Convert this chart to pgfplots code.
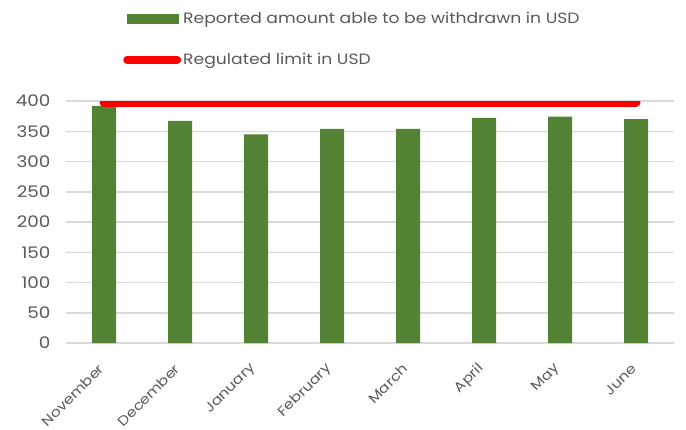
\documentclass[border=0pt]{standalone}
\usepackage{fontspec}
\setmainfont[FakeStretch=1.15]{Poppins}
\usepackage{pgfplots}
\pgfplotsset{compat=1.18}
\definecolor{bargreen}{HTML}{548235}
\definecolor{txtgray}{HTML}{595959}
\definecolor{gridgray}{HTML}{D9D9D9}
\definecolor{limred}{HTML}{FF0000}
\begin{document}
\begin{tikzpicture}[x=1bp,y=1bp]
\useasboundingbox (0,0) rectangle (686,429);
\begin{axis}[
  at={(66bp,86bp)}, anchor=south west,
  width=608bp, height=242bp, scale only axis,
  xmin=-0.5, xmax=7.5, ymin=0, ymax=400,
  ytick={0,50,...,400},
  xtick={0,...,7},
  xticklabels={November,December,January,February,March,April,May,June},
  /pgf/number format/assume math mode=true,
  x tick label style={yshift=-21bp, rotate=45, anchor=east, font=\fontsize{13.5}{13.5}\selectfont, text=txtgray},
  y tick label style={xshift=-12bp, font=\fontsize{16}{16}\selectfont, text=txtgray},
  ymajorgrids, major grid style={gridgray, line width=1.5bp},
  axis x line*=bottom, axis y line*=left,
  x axis line style={gridgray, line width=1.5bp, -},
  y axis line style={draw=none},
  major tick length=0pt,
  legend style={at={(axis description cs:0.0938,1.376)}, anchor=north west, draw=none, fill=none,
    inner sep=0pt, row sep=24bp, font=\fontsize{15}{15}\selectfont, text=txtgray,
    nodes={inner sep=2bp}, /tikz/every even column/.append style={column sep=3bp}},
  legend cell align=left,
]
\addplot[ybar, bar width=24bp, fill=bargreen, draw=none,
  legend image code/.code={\fill[bargreen] (0bp,-5bp) rectangle (52bp,5bp);\path[draw=none,fill=none] (-4bp,-5bp) rectangle (54bp,5bp);}]
  coordinates {(0,392) (1,367) (2,345) (3,354) (4,354) (5,372) (6,374) (7,370)};
\addlegendentry{Reported amount able to be withdrawn in USD}
\addplot[limred, line width=9bp, line cap=round,
  legend image code/.code={\draw[limred, line width=8bp, line cap=round] (0bp,0bp) -- (50bp,0bp);\path[draw=none,fill=none] (-4bp,-5bp) rectangle (54bp,5bp);}]
  coordinates {(0,398) (7,398)};
\addlegendentry{Regulated limit in USD}
\end{axis}
\end{tikzpicture}
\end{document}
